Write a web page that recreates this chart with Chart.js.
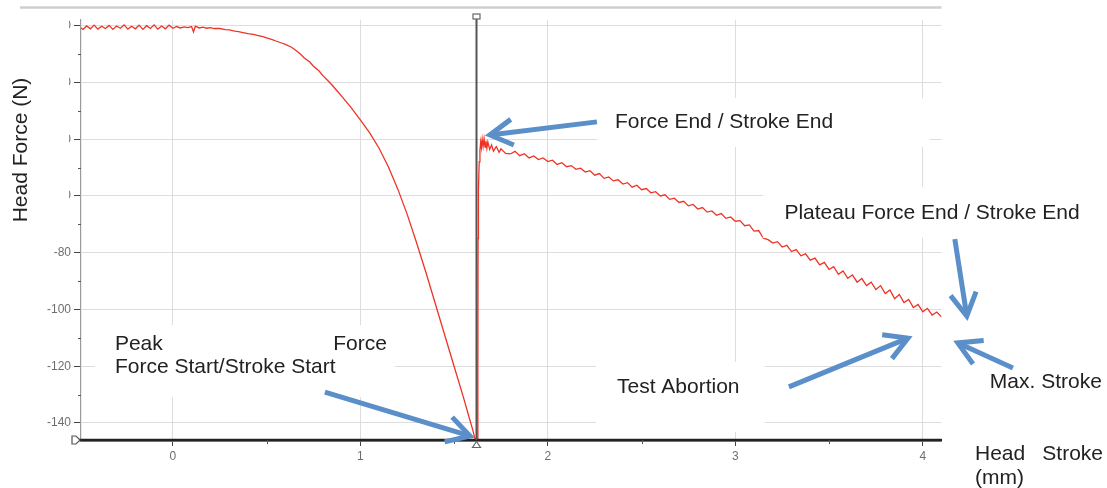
<!DOCTYPE html>
<html>
<head>
<meta charset="utf-8">
<script src="https://cdn.jsdelivr.net/npm/chart.js@4.4.1/dist/chart.umd.min.js"></script>
<style>
  html, body { margin: 0; padding: 0; background: #ffffff; }
  #wrap { width: 1107px; height: 488px; position: relative; }
</style>
</head>
<body>
<div id="wrap"><canvas id="c" width="1107" height="488"></canvas></div>
<script>
// Head stroke (mm) and head force (N) samples of the test record
const strokeMm = [
  -0.50, -0.48, -0.46, -0.44, -0.42, -0.40, -0.38, -0.36, -0.34, -0.32,
  -0.30, -0.28, -0.26, -0.24, -0.22, -0.20, -0.18, -0.16, -0.14, -0.12,
  -0.10, -0.08, -0.06, -0.04, -0.02, 0.00, 0.02, 0.04, 0.06, 0.08,
  0.10, 0.11, 0.12, 0.14, 0.16, 0.18, 0.20, 0.22, 0.25, 0.28,
  0.30, 0.33, 0.35, 0.38, 0.40, 0.43, 0.45, 0.48, 0.50, 0.53,
  0.55, 0.58, 0.60, 0.63, 0.65, 0.68, 0.70, 0.73, 0.75, 0.78,
  0.80, 0.83, 0.85, 0.88, 0.90, 0.93, 0.95, 0.98, 1.00, 1.05,
  1.10, 1.15, 1.20, 1.25, 1.30, 1.35, 1.40, 1.45, 1.50, 1.55,
  1.58, 1.60, 1.611, 1.626, 1.627, 1.628, 1.630, 1.634, 1.638, 1.642,
  1.646, 1.650, 1.655, 1.660, 1.665, 1.670, 1.675, 1.680, 1.690, 1.700,
  1.710, 1.725, 1.740, 1.750, 1.775, 1.800, 1.825, 1.850, 1.875, 1.900,
  1.925, 1.950, 1.975, 2.000, 2.025, 2.050, 2.075, 2.100, 2.125, 2.150,
  2.175, 2.200, 2.225, 2.250, 2.275, 2.300, 2.325, 2.350, 2.375, 2.400,
  2.425, 2.450, 2.475, 2.500, 2.525, 2.550, 2.575, 2.600, 2.625, 2.650,
  2.675, 2.700, 2.725, 2.750, 2.775, 2.800, 2.825, 2.850, 2.875, 2.900,
  2.925, 2.950, 2.975, 3.000, 3.025, 3.050, 3.075, 3.100, 3.125, 3.150,
  3.175, 3.200, 3.225, 3.250, 3.275, 3.300, 3.325, 3.350, 3.375, 3.400,
  3.425, 3.450, 3.475, 3.500, 3.525, 3.550, 3.575, 3.600, 3.625, 3.650,
  3.675, 3.700, 3.725, 3.750, 3.775, 3.800, 3.825, 3.850, 3.875, 3.900,
  3.925, 3.950, 3.975, 4.000, 4.025, 4.050, 4.075, 4.100
];
const forceN = [
  -0.4, -1.3, -0.1, -1.1, 0.2, -1.2, -0.2, -1.0, 0.1, -1.3,
  -0.1, -0.9, 0.3, -1.2, -0.2, -1.1, 0.2, -1.3, 0.0, -1.0,
  0.3, -1.2, -0.1, -1.1, 0.2, -0.9, -0.3, -0.8, -0.4, -0.7,
  -0.3, -2.2, -0.2, -0.8, -0.5, -0.9, -0.7, -1.0, -1.0, -1.4,
  -1.5, -1.9, -2.1, -2.5, -2.8, -3.1, -3.4, -3.9, -4.3, -4.9,
  -5.4, -6.1, -6.6, -7.5, -8.4, -10.0, -11.3, -12.8, -14.3, -16.0,
  -17.6, -19.6, -21.0, -23.3, -24.8, -27.2, -28.8, -31.4, -33.2, -37.8,
  -43.2, -49.8, -57.6, -66.5, -76.5, -87.0, -98.0, -109.0, -120.0, -131.0,
  -138.0, -142.5, -145.5, -145.5, -120.0, -75.0, -58.0, -48.0, -44.0, -41.0,
  -43.0, -40.0, -42.5, -39.8, -42.8, -40.6, -43.2, -41.0, -43.6, -42.0,
  -44.2, -42.6, -44.6, -43.4, -45.0, -45.2, -44.3, -45.8, -45.1, -46.6,
  -45.9, -47.2, -46.6, -47.9, -47.4, -48.9, -48.3, -49.7, -49.3, -50.6,
  -50.2, -51.6, -51.1, -52.7, -52.1, -53.8, -53.3, -54.7, -54.3, -55.8,
  -55.3, -56.9, -56.2, -57.8, -57.4, -58.9, -58.5, -60.0, -59.6, -61.2,
  -60.8, -62.3, -61.9, -63.5, -63.0, -64.6, -64.1, -65.7, -65.3, -66.8,
  -66.2, -67.9, -67.4, -68.9, -68.7, -70.5, -70.2, -72.4, -72.2, -74.9,
  -75.4, -76.6, -76.1, -78.0, -77.4, -79.6, -78.9, -81.1, -80.4, -82.6,
  -81.9, -84.3, -83.4, -85.9, -84.9, -87.6, -86.4, -89.0, -87.8, -90.4,
  -89.1, -91.6, -90.4, -93.0, -91.6, -94.4, -93.1, -96.2, -94.7, -97.6,
  -96.5, -99.3, -98.2, -100.8, -99.6, -102.0, -100.9, -102.6
];

// Axis ticks
const xTickValues = [0, 1, 2, 3, 4];
const xMinorTicks = [0.5, 1.5, 2.5, 3.5];
const yTickValues = [0, -20, -40, -60, -80, -100, -120, -140];
const yMinorTicks = [-10, -30, -50, -70, -90, -110, -130];

// Cursor placed at the peak-force stroke
const cursorStroke = 1.617;

// Callout labels (anchors in mm / N)
const callouts = [
  { lines: [{ text: 'Force End / Stroke End', x: 2.358, y: -36.1 }], box: [2.262, -25.5, 4.038, -42.8] },
  { lines: [{ text: 'Plateau Force End / Stroke End', x: 3.262, y: -68.1 }], box: [3.147, -56.8, 4.982, -74.8] },
  { lines: [{ text: 'Test Abortion', x: 2.369, y: -129.4 }], box: [2.257, -118.5, 3.158, -143.2] },
  { lines: [{ text: 'Max. Stroke', x: 4.358, y: -127.7 }], box: null },
  { lines: [
      { text: 'Peak', x: -0.309, y: -114.3 },
      { text: 'Force', x: 1.142, y: -114.3, align: 'right' },
      { text: 'Force Start/Stroke Start', x: -0.309, y: -122.4 }
    ], box: [-0.415, -105.5, 1.185, -130.8] }
];

// Callout arrows: tail -> tip (mm / N)
const arrows = [
  { from: [0.811, -129.1], to: [1.585, -144.6] },
  { from: [2.262, -33.9], to: [1.691, -38.5] },
  { from: [4.171, -75.2], to: [4.235, -102.3] },
  { from: [3.286, -127.3], to: [3.921, -110.1] },
  { from: [4.481, -120.6], to: [4.187, -111.8] }
];

const points = strokeMm.map((x, i) => ({ x: x, y: forceN[i] }));

const TEXT_FONT = '21px "Liberation Sans", Arial, sans-serif';
const ARROW_BLUE = '#5a8fc9';

function drawArrow(ctx, x1, y1, x2, y2) {
  const ang = Math.atan2(y1 - y2, x1 - x2);
  const len = 26, spread = 0.52;
  ctx.save();
  ctx.strokeStyle = ARROW_BLUE;
  ctx.lineWidth = 5;
  ctx.lineCap = 'butt';
  ctx.lineJoin = 'miter';
  ctx.beginPath();
  ctx.moveTo(x1, y1);
  ctx.lineTo(x2 + Math.cos(ang) * 2, y2 + Math.sin(ang) * 2);
  ctx.stroke();
  ctx.beginPath();
  ctx.moveTo(x2 + Math.cos(ang + spread) * len, y2 + Math.sin(ang + spread) * len);
  ctx.lineTo(x2, y2);
  ctx.lineTo(x2 + Math.cos(ang - spread) * len, y2 + Math.sin(ang - spread) * len);
  ctx.stroke();
  ctx.restore();
}

const decorations = {
  id: 'decorations',
  afterDraw(chart) {
    const ctx = chart.ctx;
    const xs = chart.scales.x, ys = chart.scales.y;
    const area = chart.chartArea;
    const px = v => xs.getPixelForValue(v);
    const py = v => ys.getPixelForValue(v);

    ctx.save();

    // frame line above the plot
    ctx.strokeStyle = '#cfcfcf';
    ctx.lineWidth = 2.5;
    ctx.beginPath();
    ctx.moveTo(20, 7.5);
    ctx.lineTo(area.right, 7.5);
    ctx.stroke();

    // stroke axis, extended past the force axis
    ctx.strokeStyle = '#222';
    ctx.lineWidth = 2.5;
    ctx.beginPath();
    ctx.moveTo(75, area.bottom);
    ctx.lineTo(area.right, area.bottom);
    ctx.stroke();

    // minor ticks
    ctx.strokeStyle = '#555';
    ctx.lineWidth = 1;
    yMinorTicks.forEach(v => {
      const y = Math.round(py(v)) + 0.5;
      ctx.beginPath(); ctx.moveTo(area.left - 3, y); ctx.lineTo(area.left, y); ctx.stroke();
    });
    xMinorTicks.forEach(v => {
      const x = Math.round(px(v)) + 0.5;
      ctx.beginPath(); ctx.moveTo(x, area.bottom); ctx.lineTo(x, area.bottom + 4); ctx.stroke();
    });

    // axis origin marker
    ctx.strokeStyle = '#555';
    ctx.fillStyle = '#fff';
    ctx.lineWidth = 1.2;
    ctx.beginPath();
    ctx.moveTo(72, area.bottom - 4);
    ctx.lineTo(76, area.bottom - 4);
    ctx.lineTo(80, area.bottom);
    ctx.lineTo(76, area.bottom + 4);
    ctx.lineTo(72, area.bottom + 4);
    ctx.closePath();
    ctx.fill(); ctx.stroke();

    // label boxes
    ctx.fillStyle = '#ffffff';
    ctx.fillRect(0, 11, 69, 224);
    callouts.forEach(c => {
      if (!c.box) return;
      const [x0, y0, x1, y1] = c.box;
      ctx.fillRect(px(x0), py(y0), px(x1) - px(x0), py(y1) - py(y0));
    });

    // cursor line with its handles
    const cx = Math.round(px(cursorStroke)) + 0.5;
    ctx.strokeStyle = '#555';
    ctx.lineWidth = 2;
    ctx.beginPath();
    ctx.moveTo(cx, area.top - 3);
    ctx.lineTo(cx, area.bottom);
    ctx.stroke();
    ctx.lineWidth = 1.2;
    ctx.fillStyle = '#fff';
    ctx.strokeStyle = '#666';
    ctx.fillRect(cx - 3.5, area.top - 6, 7, 5);
    ctx.strokeRect(cx - 3.5, area.top - 6, 7, 5);
    ctx.beginPath();
    ctx.moveTo(cx, area.bottom + 1.5);
    ctx.lineTo(cx + 4, area.bottom + 7.5);
    ctx.lineTo(cx - 4, area.bottom + 7.5);
    ctx.closePath();
    ctx.fill(); ctx.stroke();

    // callout texts
    ctx.fillStyle = '#222';
    ctx.font = TEXT_FONT;
    ctx.textBaseline = 'alphabetic';
    callouts.forEach(c => {
      c.lines.forEach(l => {
        ctx.textAlign = l.align || 'left';
        ctx.fillText(l.text, px(l.x), py(l.y));
      });
    });

    // axis titles
    ctx.textAlign = 'left';
    ctx.fillText('Head', 975, 460);
    ctx.textAlign = 'right';
    ctx.fillText('Stroke', 1103, 460);
    ctx.textAlign = 'left';
    ctx.fillText('(mm)', 975, 484);

    ctx.save();
    ctx.translate(27, 150);
    ctx.rotate(-Math.PI / 2);
    ctx.textAlign = 'center';
    ctx.fillText('Head Force (N)', 0, 0);
    ctx.restore();

    // arrows
    arrows.forEach(a => drawArrow(ctx, px(a.from[0]), py(a.from[1]), px(a.to[0]), py(a.to[1])));

    ctx.restore();
  }
};

new Chart(document.getElementById('c'), {
  type: 'scatter',
  data: {
    datasets: [{
      data: points,
      showLine: true,
      borderColor: '#ee3326',
      borderWidth: 1.3,
      pointRadius: 0,
      tension: 0
    }]
  },
  options: {
    responsive: false,
    animation: false,
    events: [],
    layout: { padding: { left: 0, right: 165.5, top: 20, bottom: 0 } },
    plugins: { legend: { display: false }, tooltip: { enabled: false } },
    scales: {
      x: {
        type: 'linear',
        min: -0.49,
        max: 4.1,
        afterBuildTicks: a => { a.ticks = xTickValues.map(v => ({ value: v })); },
        afterFit: a => { a.height = 48; },
        grid: { color: '#dddddd', lineWidth: 1, tickLength: 6, tickColor: '#444' },
        border: { color: '#222', width: 2.5 },
        ticks: {
          font: { family: 'Liberation Sans', size: 12 },
          color: '#6e6e6e',
          padding: 3,
          maxRotation: 0,
          autoSkip: false
        }
      },
      y: {
        type: 'linear',
        min: -146,
        max: 2,
        afterBuildTicks: a => { a.ticks = yTickValues.map(v => ({ value: v })); },
        afterFit: a => { a.width = 81; },
        grid: { color: '#dddddd', lineWidth: 1, tickLength: 7, tickColor: '#444' },
        border: { color: '#9a9a9a', width: 1.2 },
        ticks: {
          font: { family: 'Liberation Sans', size: 12 },
          color: '#6e6e6e',
          padding: 3,
          autoSkip: false
        }
      }
    }
  },
  plugins: [decorations]
});
</script>
</body>
</html>
